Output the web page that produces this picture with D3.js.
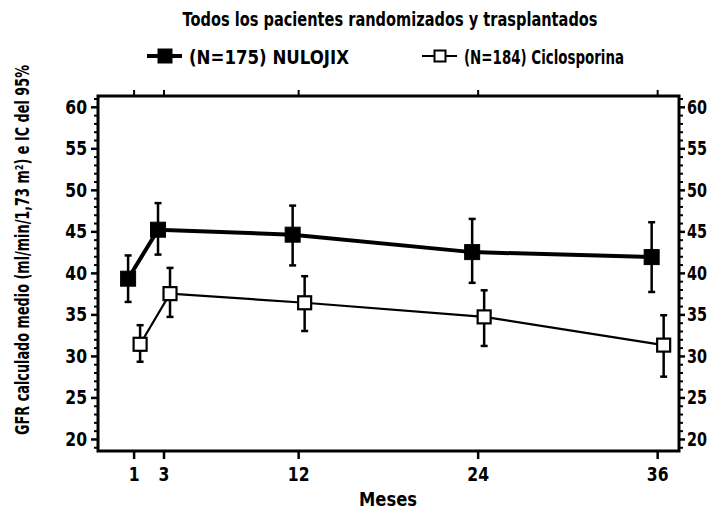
<!DOCTYPE html>
<html>
<head>
<meta charset="utf-8">
<script src="https://cdn.jsdelivr.net/npm/d3@7"></script>
<style>
	body { margin: 0; background: #fff; }
	svg { display: block; }
	text { font-family: "DejaVu Sans", sans-serif; font-weight: bold; fill: #000; }
</style>
</head>
<body>
<div id="chart"></div>
<script>
const months = [1, 3, 12, 24, 36]
const yTicks = [20, 25, 30, 35, 40, 45, 50, 55, 60]

const nulojixMean = [39.3, 45.2, 44.6, 42.5, 41.9]
const nulojixLow = [36.5, 42.2, 40.9, 38.8, 37.7]
const nulojixHigh = [42.1, 48.4, 48.1, 46.5, 46.1]

const cicloMean = [31.4, 37.5, 36.4, 34.7, 31.3]
const cicloLow = [29.3, 34.7, 33.0, 31.2, 27.5]
const cicloHigh = [33.7, 40.6, 39.6, 37.9, 34.9]

const titleText = "Todos los pacientes randomizados y trasplantados"
const legendLabels = ["(N=175) NULOJIX", "(N=184) Ciclosporina"]
const xTitle = "Meses"
const yTitleText = "GFR calculado medio (ml/min/1,73 m²) e IC del 95%"

const width = 710
const height = 513
const margin = { top: 96, right: 31, bottom: 62, left: 98 }
const innerW = width - margin.left - margin.right
const innerH = height - margin.top - margin.bottom

const svg = d3.select("#chart").append("svg").attr("width", width).attr("height", height)

// squeeze glyphs horizontally, the scan uses a heavy condensed face
const condense = (sel, factor) =>
	sel.each(function () {
		const len = this.getComputedTextLength()
		d3.select(this).attr("textLength", len * factor).attr("lengthAdjust", "spacingAndGlyphs")
	})
const fitTo = (sel, len) => sel.attr("textLength", len).attr("lengthAdjust", "spacingAndGlyphs")

const x = d3.scaleLinear().domain([-1.38, 37.46]).range([0, innerW])
const y = d3.scaleLinear().domain([18.55, 61.3]).range([innerH, 0])

const g = svg.append("g").attr("transform", `translate(${margin.left},${margin.top})`)

// minor ticks every unit
const minorTicks = d3.range(19, 62).filter(v => v % 5 !== 0)

const leftAxis = g.append("g").call(d3.axisLeft(y).tickValues(yTicks).tickSize(7).tickPadding(4).tickFormat(d3.format("d")))
leftAxis.selectAll(".tick line").attr("stroke-width", 2.5)
leftAxis.selectAll(".tick text").style("font-size", "20px").call(condense, 0.78)
leftAxis.append("g").call(d3.axisLeft(y).tickValues(minorTicks).tickSize(4).tickFormat(""))
	.selectAll("line").attr("stroke-width", 2)

const rightAxis = g.append("g").attr("transform", `translate(${innerW},0)`)
	.call(d3.axisRight(y).tickValues(yTicks).tickSize(6).tickPadding(2).tickFormat(d3.format("d")))
rightAxis.selectAll(".tick line").attr("stroke-width", 2.5)
rightAxis.selectAll(".tick text").style("font-size", "20px").call(condense, 0.72)
rightAxis.append("g").call(d3.axisRight(y).tickValues(minorTicks).tickSize(4).tickFormat(""))
	.selectAll("line").attr("stroke-width", 2)

const bottomAxis = g.append("g").attr("transform", `translate(0,${innerH})`)
	.call(d3.axisBottom(x).tickValues(months).tickSize(8).tickPadding(8))
bottomAxis.selectAll(".tick line").attr("stroke-width", 2.5)
bottomAxis.selectAll(".tick text").style("font-size", "20px").call(condense, 0.78)

const topAxis = g.append("g").call(d3.axisTop(x).tickValues(months).tickSize(6).tickFormat(""))
topAxis.selectAll(".tick line").attr("stroke-width", 2)

g.selectAll(".domain").remove()

g.append("rect")
	.attr("x", 0)
	.attr("y", 0)
	.attr("width", innerW)
	.attr("height", innerH)
	.attr("fill", "none")
	.attr("stroke", "#000")
	.attr("stroke-width", 3)

const series = [
	{ mean: nulojixMean, low: nulojixLow, high: nulojixHigh, dx: -5.5, filled: true, lineW: 4, size: 15 },
	{ mean: cicloMean, low: cicloLow, high: cicloHigh, dx: 6.5, filled: false, lineW: 2.2, size: 13 }
]

series.forEach(s => {
	const pts = months.map((m, i) => ({ m, v: s.mean[i], lo: s.low[i], hi: s.high[i] }))
	const sg = g.append("g")

	sg.append("path")
		.datum(pts)
		.attr("fill", "none")
		.attr("stroke", "#000")
		.attr("stroke-width", s.lineW)
		.attr("d", d3.line().x(d => x(d.m) + s.dx).y(d => y(d.v)))

	const eb = sg.selectAll(".err").data(pts).enter().append("g")
	eb.append("line")
		.attr("x1", d => x(d.m) + s.dx)
		.attr("x2", d => x(d.m) + s.dx)
		.attr("y1", d => y(d.lo))
		.attr("y2", d => y(d.hi))
		.attr("stroke", "#000")
		.attr("stroke-width", 2.5)
	eb.selectAll(".cap")
		.data(d => [d.lo, d.hi].map(v => ({ m: d.m, v })))
		.enter()
		.append("line")
		.attr("x1", d => x(d.m) + s.dx - 3.5)
		.attr("x2", d => x(d.m) + s.dx + 3.5)
		.attr("y1", d => y(d.v))
		.attr("y2", d => y(d.v))
		.attr("stroke", "#000")
		.attr("stroke-width", 2.5)

	sg.selectAll(".mk").data(pts).enter().append("rect")
		.attr("x", d => x(d.m) + s.dx - s.size / 2)
		.attr("y", d => y(d.v) - s.size / 2)
		.attr("width", s.size)
		.attr("height", s.size)
		.attr("fill", s.filled ? "#000" : "#fff")
		.attr("stroke", "#000")
		.attr("stroke-width", s.filled ? 1 : 2.2)
})

// title
svg.append("text")
	.attr("x", 390)
	.attr("y", 26)
	.attr("text-anchor", "middle")
	.style("font-size", "20px")
	.text(titleText)
	.call(fitTo, 415)

// legend
const legend = svg.append("g").attr("transform", "translate(0,56)")
const legendItems = [
	{ x0: 147, filled: true, lineW: 4, size: 14, len: 160 },
	{ x0: 422, filled: false, lineW: 2, size: 11, len: 160 }
]
legendItems.forEach((it, i) => {
	legend.append("line")
		.attr("x1", it.x0)
		.attr("x2", it.x0 + 35)
		.attr("y1", 0)
		.attr("y2", 0)
		.attr("stroke", "#000")
		.attr("stroke-width", it.lineW)
	legend.append("rect")
		.attr("x", it.x0 + 18 - it.size / 2)
		.attr("y", -it.size / 2)
		.attr("width", it.size)
		.attr("height", it.size)
		.attr("fill", it.filled ? "#000" : "#fff")
		.attr("stroke", "#000")
		.attr("stroke-width", it.filled ? 1 : 2)
	legend.append("text")
		.attr("x", it.x0 + 42)
		.attr("y", 8)
		.style("font-size", "20px")
		.text(legendLabels[i])
		.call(fitTo, it.len)
})

// axis titles
svg.append("text")
	.attr("x", 388)
	.attr("y", 506)
	.attr("text-anchor", "middle")
	.style("font-size", "20px")
	.text(xTitle)
	.call(fitTo, 58)

svg.append("text")
	.attr("transform", "translate(29,250) rotate(-90)")
	.attr("text-anchor", "middle")
	.style("font-size", "19px")
	.text(yTitleText)
	.call(fitTo, 370)
</script>
</body>
</html>
